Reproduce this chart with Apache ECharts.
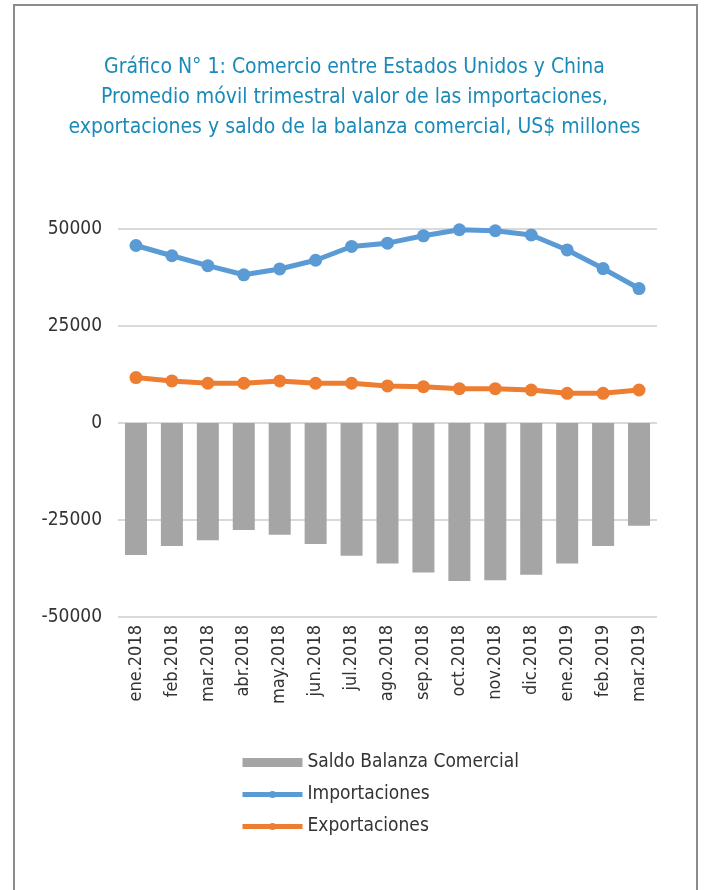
<!DOCTYPE html>
<html>
<head>
<meta charset="utf-8">
<script src="https://cdn.jsdelivr.net/npm/echarts@6/dist/echarts.min.js"></script>
<style>
  html, body { margin: 0; padding: 0; background: #fff; }
  #chart { width: 709px; height: 890px; }
</style>
</head>
<body>
<div id="chart"></div>
<script>
// meses (promedio móvil trimestral)
const meses = ['ene.2018', 'feb.2018', 'mar.2018', 'abr.2018', 'may.2018', 'jun.2018', 'jul.2018',
    'ago.2018', 'sep.2018', 'oct.2018', 'nov.2018', 'dic.2018', 'ene.2019', 'feb.2019', 'mar.2019'];

// US$ millones
const saldo = [-34050, -31700, -30200, -27600, -28800, -31200, -34200,
    -36200, -38500, -40700, -40500, -39100, -36200, -31700, -26500];
const importaciones = [45750, 43100, 40550, 38200, 39700, 41950, 45500,
    46350, 48250, 49800, 49550, 48450, 44600, 39800, 34650];
const exportaciones = [11700, 10850, 10250, 10250, 10850, 10250, 10250,
    9550, 9350, 8850, 8850, 8500, 7650, 7650, 8500];

const fontCond = '"DejaVu Sans Condensed", "Liberation Sans Narrow", "Roboto", sans-serif';

const chart = echarts.init(document.getElementById('chart'));

const option = {
    backgroundColor: '#fff',
    animation: false,
    graphic: [{
        type: 'rect',
        shape: { x: 14, y: 5, width: 683, height: 920 },
        style: { fill: 'none', stroke: '#8c8c8c', lineWidth: 2 }
    }],
    title: {
        text: 'Gráfico N° 1: Comercio entre Estados Unidos y China\n' +
            'Promedio móvil trimestral valor de las importaciones,\n' +
            'exportaciones y saldo de la balanza comercial, US$ millones',
        left: 'center',
        top: 48,
        textStyle: {
            color: '#1b8ab8',
            fontFamily: fontCond,
            fontSize: 21,
            fontWeight: 'normal',
            lineHeight: 30,
            align: 'center'
        }
    },
    legend: {
        orient: 'vertical',
        left: 235,
        top: 748,
        itemWidth: 60,
        itemHeight: 9,
        itemGap: 13,
        lineStyle: { width: 5 },
        textStyle: { color: '#333', fontFamily: fontCond, fontSize: 19 },
        data: [
            { name: 'Saldo Balanza Comercial', icon: 'rect' },
            { name: 'Importaciones' },
            { name: 'Exportaciones' }
        ]
    },
    grid: { left: 118, right: 52, top: 229, bottom: 273, containLabel: false },
    xAxis: {
        type: 'category',
        data: meses,
        boundaryGap: true,
        axisLine: { show: false },
        axisTick: { show: false },
        axisLabel: {
            rotate: 90,
            margin: 8,
            interval: 0,
            color: '#333',
            fontFamily: fontCond,
            fontSize: 18
        }
    },
    yAxis: {
        type: 'value',
        min: -50000,
        max: 50000,
        interval: 25000,
        axisLine: { show: false },
        axisTick: { show: false },
        axisLabel: {
            color: '#333',
            fontFamily: fontCond,
            fontSize: 19,
            margin: 16,
            formatter: (v) => String(v)
        },
        splitLine: { lineStyle: { color: '#d9d9d9', width: 2 } }
    },
    series: [
        {
            name: 'Saldo Balanza Comercial',
            type: 'bar',
            data: saldo,
            barWidth: 22,
            itemStyle: { color: '#a5a5a5' }
        },
        {
            name: 'Importaciones',
            type: 'line',
            data: importaciones,
            symbol: 'circle',
            symbolSize: 13,
            lineStyle: { width: 5, color: '#5b9bd5' },
            itemStyle: { color: '#5b9bd5' }
        },
        {
            name: 'Exportaciones',
            type: 'line',
            data: exportaciones,
            symbol: 'circle',
            symbolSize: 13,
            lineStyle: { width: 5, color: '#ed7d31' },
            itemStyle: { color: '#ed7d31' }
        }
    ]
};

chart.setOption(option);
</script>
</body>
</html>
